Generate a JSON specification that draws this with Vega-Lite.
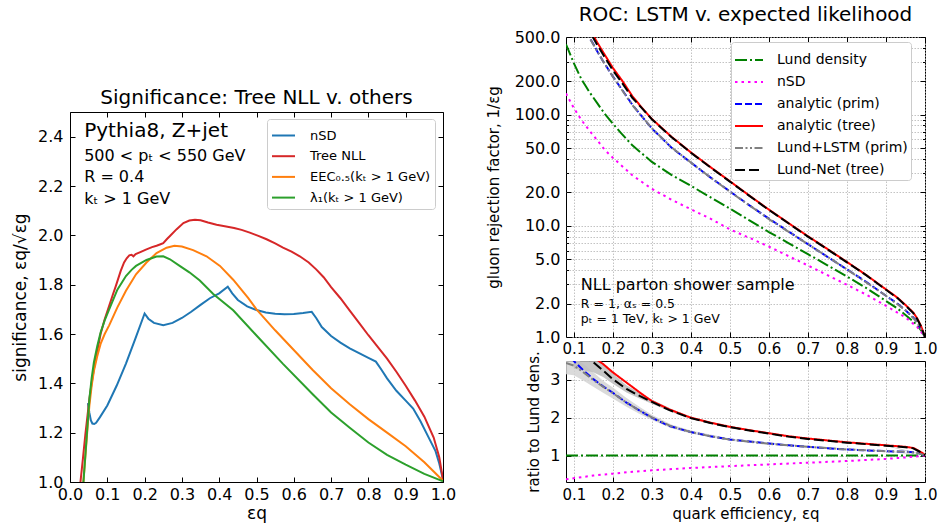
{
"$schema": "https://vega.github.io/schema/vega-lite/v6.json",
"autosize": {"type": "none"},
"padding": {"left": 70, "top": 37, "right": 872, "bottom": 491},
"background": "white",
"spacing": 496,
"bounds": "flush",
"resolve": {"scale": {"color": "independent", "strokeDash": "independent", "fill": "independent"}},
"datasets": {
"sig": [
{"s":"nSD","x":0.048,"y":1.32},{"s":"nSD","x":0.052,"y":1.28},{"s":"nSD","x":0.056,"y":1.25},{"s":"nSD","x":0.06,"y":1.237},{"s":"nSD","x":0.065,"y":1.235},{"s":"nSD","x":0.07,"y":1.24},{"s":"nSD","x":0.08,"y":1.262},{"s":"nSD","x":0.1,"y":1.31},{"s":"nSD","x":0.125,"y":1.39},{"s":"nSD","x":0.15,"y":1.48},{"s":"nSD","x":0.175,"y":1.58},{"s":"nSD","x":0.2,"y":1.683},{"s":"nSD","x":0.21,"y":1.662},{"s":"nSD","x":0.225,"y":1.645},{"s":"nSD","x":0.25,"y":1.636},{"s":"nSD","x":0.275,"y":1.645},{"s":"nSD","x":0.3,"y":1.665},{"s":"nSD","x":0.325,"y":1.69},{"s":"nSD","x":0.35,"y":1.718},{"s":"nSD","x":0.375,"y":1.745},{"s":"nSD","x":0.4,"y":1.765},{"s":"nSD","x":0.423,"y":1.792},{"s":"nSD","x":0.435,"y":1.765},{"s":"nSD","x":0.45,"y":1.738},{"s":"nSD","x":0.475,"y":1.712},{"s":"nSD","x":0.5,"y":1.697},{"s":"nSD","x":0.525,"y":1.687},{"s":"nSD","x":0.55,"y":1.682},{"s":"nSD","x":0.575,"y":1.68},{"s":"nSD","x":0.6,"y":1.681},{"s":"nSD","x":0.625,"y":1.685},{"s":"nSD","x":0.648,"y":1.69},{"s":"nSD","x":0.66,"y":1.665},{"s":"nSD","x":0.675,"y":1.628},{"s":"nSD","x":0.7,"y":1.592},{"s":"nSD","x":0.725,"y":1.565},{"s":"nSD","x":0.75,"y":1.542},{"s":"nSD","x":0.775,"y":1.522},{"s":"nSD","x":0.8,"y":1.503},{"s":"nSD","x":0.82,"y":1.488},{"s":"nSD","x":0.835,"y":1.455},{"s":"nSD","x":0.85,"y":1.42},{"s":"nSD","x":0.875,"y":1.37},{"s":"nSD","x":0.9,"y":1.33},{"s":"nSD","x":0.92,"y":1.298},{"s":"nSD","x":0.94,"y":1.245},{"s":"nSD","x":0.96,"y":1.185},{"s":"nSD","x":0.98,"y":1.125},{"s":"nSD","x":0.99,"y":1.075},{"s":"nSD","x":1.0,"y":1.01},
{"s":"Tree NLL","x":0.028,"y":1.0},{"s":"Tree NLL","x":0.035,"y":1.1},{"s":"Tree NLL","x":0.041,"y":1.19},{"s":"Tree NLL","x":0.047,"y":1.27},{"s":"Tree NLL","x":0.052,"y":1.337},{"s":"Tree NLL","x":0.058,"y":1.4},{"s":"Tree NLL","x":0.064,"y":1.458},{"s":"Tree NLL","x":0.073,"y":1.53},{"s":"Tree NLL","x":0.082,"y":1.6},{"s":"Tree NLL","x":0.093,"y":1.66},{"s":"Tree NLL","x":0.105,"y":1.714},{"s":"Tree NLL","x":0.115,"y":1.76},{"s":"Tree NLL","x":0.123,"y":1.795},{"s":"Tree NLL","x":0.136,"y":1.856},{"s":"Tree NLL","x":0.145,"y":1.89},{"s":"Tree NLL","x":0.152,"y":1.907},{"s":"Tree NLL","x":0.159,"y":1.919},{"s":"Tree NLL","x":0.165,"y":1.921},{"s":"Tree NLL","x":0.17,"y":1.915},{"s":"Tree NLL","x":0.176,"y":1.924},{"s":"Tree NLL","x":0.19,"y":1.933},{"s":"Tree NLL","x":0.205,"y":1.943},{"s":"Tree NLL","x":0.22,"y":1.952},{"s":"Tree NLL","x":0.232,"y":1.958},{"s":"Tree NLL","x":0.241,"y":1.963},{"s":"Tree NLL","x":0.25,"y":1.968},{"s":"Tree NLL","x":0.26,"y":1.985},{"s":"Tree NLL","x":0.268,"y":1.997},{"s":"Tree NLL","x":0.286,"y":2.025},{"s":"Tree NLL","x":0.304,"y":2.05},{"s":"Tree NLL","x":0.32,"y":2.06},{"s":"Tree NLL","x":0.335,"y":2.063},{"s":"Tree NLL","x":0.35,"y":2.061},{"s":"Tree NLL","x":0.37,"y":2.052},{"s":"Tree NLL","x":0.393,"y":2.043},{"s":"Tree NLL","x":0.415,"y":2.037},{"s":"Tree NLL","x":0.44,"y":2.03},{"s":"Tree NLL","x":0.46,"y":2.022},{"s":"Tree NLL","x":0.482,"y":2.011},{"s":"Tree NLL","x":0.505,"y":1.998},{"s":"Tree NLL","x":0.527,"y":1.984},{"s":"Tree NLL","x":0.55,"y":1.967},{"s":"Tree NLL","x":0.571,"y":1.95},{"s":"Tree NLL","x":0.594,"y":1.934},{"s":"Tree NLL","x":0.616,"y":1.915},{"s":"Tree NLL","x":0.64,"y":1.89},{"s":"Tree NLL","x":0.66,"y":1.862},{"s":"Tree NLL","x":0.68,"y":1.83},{"s":"Tree NLL","x":0.7,"y":1.79},{"s":"Tree NLL","x":0.725,"y":1.745},{"s":"Tree NLL","x":0.75,"y":1.695},{"s":"Tree NLL","x":0.775,"y":1.645},{"s":"Tree NLL","x":0.8,"y":1.595},{"s":"Tree NLL","x":0.825,"y":1.548},{"s":"Tree NLL","x":0.85,"y":1.5},{"s":"Tree NLL","x":0.875,"y":1.447},{"s":"Tree NLL","x":0.9,"y":1.39},{"s":"Tree NLL","x":0.925,"y":1.33},{"s":"Tree NLL","x":0.95,"y":1.265},{"s":"Tree NLL","x":0.975,"y":1.18},{"s":"Tree NLL","x":0.99,"y":1.1},{"s":"Tree NLL","x":1.0,"y":1.01},
{"s":"EEC₀.₅(kₜ > 1 GeV)","x":0.036,"y":1.0},{"s":"EEC₀.₅(kₜ > 1 GeV)","x":0.042,"y":1.12},{"s":"EEC₀.₅(kₜ > 1 GeV)","x":0.048,"y":1.24},{"s":"EEC₀.₅(kₜ > 1 GeV)","x":0.052,"y":1.31},{"s":"EEC₀.₅(kₜ > 1 GeV)","x":0.058,"y":1.39},{"s":"EEC₀.₅(kₜ > 1 GeV)","x":0.064,"y":1.45},{"s":"EEC₀.₅(kₜ > 1 GeV)","x":0.073,"y":1.51},{"s":"EEC₀.₅(kₜ > 1 GeV)","x":0.082,"y":1.56},{"s":"EEC₀.₅(kₜ > 1 GeV)","x":0.093,"y":1.6},{"s":"EEC₀.₅(kₜ > 1 GeV)","x":0.105,"y":1.635},{"s":"EEC₀.₅(kₜ > 1 GeV)","x":0.127,"y":1.708},{"s":"EEC₀.₅(kₜ > 1 GeV)","x":0.15,"y":1.775},{"s":"EEC₀.₅(kₜ > 1 GeV)","x":0.177,"y":1.842},{"s":"EEC₀.₅(kₜ > 1 GeV)","x":0.205,"y":1.89},{"s":"EEC₀.₅(kₜ > 1 GeV)","x":0.232,"y":1.928},{"s":"EEC₀.₅(kₜ > 1 GeV)","x":0.259,"y":1.95},{"s":"EEC₀.₅(kₜ > 1 GeV)","x":0.28,"y":1.958},{"s":"EEC₀.₅(kₜ > 1 GeV)","x":0.3,"y":1.955},{"s":"EEC₀.₅(kₜ > 1 GeV)","x":0.33,"y":1.94},{"s":"EEC₀.₅(kₜ > 1 GeV)","x":0.366,"y":1.915},{"s":"EEC₀.₅(kₜ > 1 GeV)","x":0.402,"y":1.876},{"s":"EEC₀.₅(kₜ > 1 GeV)","x":0.4375,"y":1.82},{"s":"EEC₀.₅(kₜ > 1 GeV)","x":0.478,"y":1.745},{"s":"EEC₀.₅(kₜ > 1 GeV)","x":0.5,"y":1.7},{"s":"EEC₀.₅(kₜ > 1 GeV)","x":0.55,"y":1.615},{"s":"EEC₀.₅(kₜ > 1 GeV)","x":0.6,"y":1.535},{"s":"EEC₀.₅(kₜ > 1 GeV)","x":0.65,"y":1.455},{"s":"EEC₀.₅(kₜ > 1 GeV)","x":0.7,"y":1.38},{"s":"EEC₀.₅(kₜ > 1 GeV)","x":0.75,"y":1.315},{"s":"EEC₀.₅(kₜ > 1 GeV)","x":0.8,"y":1.255},{"s":"EEC₀.₅(kₜ > 1 GeV)","x":0.85,"y":1.2},{"s":"EEC₀.₅(kₜ > 1 GeV)","x":0.9,"y":1.145},{"s":"EEC₀.₅(kₜ > 1 GeV)","x":0.95,"y":1.08},{"s":"EEC₀.₅(kₜ > 1 GeV)","x":1.0,"y":1.005},
{"s":"λ₁(kₜ > 1 GeV)","x":0.036,"y":1.0},{"s":"λ₁(kₜ > 1 GeV)","x":0.045,"y":1.19},{"s":"λ₁(kₜ > 1 GeV)","x":0.052,"y":1.337},{"s":"λ₁(kₜ > 1 GeV)","x":0.058,"y":1.42},{"s":"λ₁(kₜ > 1 GeV)","x":0.064,"y":1.485},{"s":"λ₁(kₜ > 1 GeV)","x":0.073,"y":1.55},{"s":"λ₁(kₜ > 1 GeV)","x":0.082,"y":1.606},{"s":"λ₁(kₜ > 1 GeV)","x":0.093,"y":1.655},{"s":"λ₁(kₜ > 1 GeV)","x":0.105,"y":1.7},{"s":"λ₁(kₜ > 1 GeV)","x":0.127,"y":1.78},{"s":"λ₁(kₜ > 1 GeV)","x":0.15,"y":1.835},{"s":"λ₁(kₜ > 1 GeV)","x":0.165,"y":1.86},{"s":"λ₁(kₜ > 1 GeV)","x":0.177,"y":1.876},{"s":"λ₁(kₜ > 1 GeV)","x":0.205,"y":1.9},{"s":"λ₁(kₜ > 1 GeV)","x":0.232,"y":1.914},{"s":"λ₁(kₜ > 1 GeV)","x":0.25,"y":1.915},{"s":"λ₁(kₜ > 1 GeV)","x":0.268,"y":1.903},{"s":"λ₁(kₜ > 1 GeV)","x":0.295,"y":1.875},{"s":"λ₁(kₜ > 1 GeV)","x":0.32,"y":1.85},{"s":"λ₁(kₜ > 1 GeV)","x":0.348,"y":1.817},{"s":"λ₁(kₜ > 1 GeV)","x":0.384,"y":1.762},{"s":"λ₁(kₜ > 1 GeV)","x":0.4375,"y":1.696},{"s":"λ₁(kₜ > 1 GeV)","x":0.5,"y":1.594},{"s":"λ₁(kₜ > 1 GeV)","x":0.571,"y":1.479},{"s":"λ₁(kₜ > 1 GeV)","x":0.65,"y":1.357},{"s":"λ₁(kₜ > 1 GeV)","x":0.7,"y":1.282},{"s":"λ₁(kₜ > 1 GeV)","x":0.75,"y":1.22},{"s":"λ₁(kₜ > 1 GeV)","x":0.8,"y":1.16},{"s":"λ₁(kₜ > 1 GeV)","x":0.85,"y":1.11},{"s":"λ₁(kₜ > 1 GeV)","x":0.9,"y":1.07},{"s":"λ₁(kₜ > 1 GeV)","x":0.95,"y":1.033},{"s":"λ₁(kₜ > 1 GeV)","x":1.0,"y":1.003}
],
"roc": [
{"s":"Lund density","x":0.08,"y":430},{"s":"Lund density","x":0.09,"y":355},{"s":"Lund density","x":0.1,"y":291},{"s":"Lund density","x":0.11,"y":245},{"s":"Lund density","x":0.12,"y":207},{"s":"Lund density","x":0.13,"y":182},{"s":"Lund density","x":0.14,"y":160},{"s":"Lund density","x":0.16,"y":127},{"s":"Lund density","x":0.18,"y":101},{"s":"Lund density","x":0.2,"y":83},{"s":"Lund density","x":0.22,"y":69},{"s":"Lund density","x":0.25,"y":53},{"s":"Lund density","x":0.3,"y":37.6},{"s":"Lund density","x":0.35,"y":28.8},{"s":"Lund density","x":0.4,"y":22.9},{"s":"Lund density","x":0.45,"y":18.1},{"s":"Lund density","x":0.5,"y":14.3},{"s":"Lund density","x":0.55,"y":11.2},{"s":"Lund density","x":0.6,"y":8.8},{"s":"Lund density","x":0.65,"y":7.0},{"s":"Lund density","x":0.7,"y":5.56},{"s":"Lund density","x":0.75,"y":4.42},{"s":"Lund density","x":0.8,"y":3.5},{"s":"Lund density","x":0.85,"y":2.75},{"s":"Lund density","x":0.9,"y":2.11},{"s":"Lund density","x":0.93,"y":1.8},{"s":"Lund density","x":0.95,"y":1.58},{"s":"Lund density","x":0.97,"y":1.38},{"s":"Lund density","x":0.98,"y":1.27},{"s":"Lund density","x":0.99,"y":1.15},{"s":"Lund density","x":1.0,"y":1.0},
{"s":"nSD","x":0.08,"y":155},{"s":"nSD","x":0.1,"y":115},{"s":"nSD","x":0.12,"y":89},{"s":"nSD","x":0.14,"y":72},{"s":"nSD","x":0.16,"y":59},{"s":"nSD","x":0.18,"y":48},{"s":"nSD","x":0.2,"y":41},{"s":"nSD","x":0.25,"y":28.5},{"s":"nSD","x":0.3,"y":21.5},{"s":"nSD","x":0.35,"y":17.2},{"s":"nSD","x":0.4,"y":14.1},{"s":"nSD","x":0.45,"y":11.6},{"s":"nSD","x":0.5,"y":9.3},{"s":"nSD","x":0.55,"y":7.8},{"s":"nSD","x":0.6,"y":6.5},{"s":"nSD","x":0.65,"y":5.35},{"s":"nSD","x":0.7,"y":4.4},{"s":"nSD","x":0.75,"y":3.6},{"s":"nSD","x":0.8,"y":2.95},{"s":"nSD","x":0.85,"y":2.4},{"s":"nSD","x":0.9,"y":1.91},{"s":"nSD","x":0.95,"y":1.5},{"s":"nSD","x":0.98,"y":1.23},{"s":"nSD","x":1.0,"y":1.0},
{"s":"analytic (prim)","x":0.12,"y":689},{"s":"analytic (prim)","x":0.13,"y":582},{"s":"analytic (prim)","x":0.14,"y":496},{"s":"analytic (prim)","x":0.15,"y":432},{"s":"analytic (prim)","x":0.16,"y":373},{"s":"analytic (prim)","x":0.175,"y":303},{"s":"analytic (prim)","x":0.2,"y":221},{"s":"analytic (prim)","x":0.225,"y":165},{"s":"analytic (prim)","x":0.25,"y":123},{"s":"analytic (prim)","x":0.275,"y":96},{"s":"analytic (prim)","x":0.3,"y":75.2},{"s":"analytic (prim)","x":0.35,"y":50.7},{"s":"analytic (prim)","x":0.4,"y":37.1},{"s":"analytic (prim)","x":0.45,"y":27.3},{"s":"analytic (prim)","x":0.5,"y":20.4},{"s":"analytic (prim)","x":0.55,"y":15.3},{"s":"analytic (prim)","x":0.6,"y":11.6},{"s":"analytic (prim)","x":0.65,"y":8.9},{"s":"analytic (prim)","x":0.7,"y":6.84},{"s":"analytic (prim)","x":0.75,"y":5.26},{"s":"analytic (prim)","x":0.8,"y":4.06},{"s":"analytic (prim)","x":0.85,"y":3.12},{"s":"analytic (prim)","x":0.9,"y":2.35},{"s":"analytic (prim)","x":0.93,"y":1.99},{"s":"analytic (prim)","x":0.95,"y":1.74},{"s":"analytic (prim)","x":0.97,"y":1.5},{"s":"analytic (prim)","x":0.98,"y":1.36},{"s":"analytic (prim)","x":0.99,"y":1.2},{"s":"analytic (prim)","x":1.0,"y":1.0},
{"s":"analytic (tree)","x":0.13,"y":683},{"s":"analytic (tree)","x":0.14,"y":589},{"s":"analytic (tree)","x":0.15,"y":515},{"s":"analytic (tree)","x":0.16,"y":447},{"s":"analytic (tree)","x":0.175,"y":366},{"s":"analytic (tree)","x":0.2,"y":264},{"s":"analytic (tree)","x":0.225,"y":200},{"s":"analytic (tree)","x":0.25,"y":147},{"s":"analytic (tree)","x":0.275,"y":115},{"s":"analytic (tree)","x":0.3,"y":91.7},{"s":"analytic (tree)","x":0.35,"y":63.4},{"s":"analytic (tree)","x":0.4,"y":45.8},{"s":"analytic (tree)","x":0.45,"y":33.8},{"s":"analytic (tree)","x":0.5,"y":25.2},{"s":"analytic (tree)","x":0.55,"y":18.7},{"s":"analytic (tree)","x":0.6,"y":14.0},{"s":"analytic (tree)","x":0.65,"y":10.6},{"s":"analytic (tree)","x":0.7,"y":8.06},{"s":"analytic (tree)","x":0.75,"y":6.19},{"s":"analytic (tree)","x":0.8,"y":4.73},{"s":"analytic (tree)","x":0.85,"y":3.6},{"s":"analytic (tree)","x":0.9,"y":2.68},{"s":"analytic (tree)","x":0.93,"y":2.25},{"s":"analytic (tree)","x":0.95,"y":1.94},{"s":"analytic (tree)","x":0.97,"y":1.66},{"s":"analytic (tree)","x":0.98,"y":1.47},{"s":"analytic (tree)","x":0.99,"y":1.25},{"s":"analytic (tree)","x":1.0,"y":1.0},
{"s":"Lund+LSTM (prim)","x":0.12,"y":679},{"s":"Lund+LSTM (prim)","x":0.13,"y":577},{"s":"Lund+LSTM (prim)","x":0.14,"y":493},{"s":"Lund+LSTM (prim)","x":0.15,"y":429},{"s":"Lund+LSTM (prim)","x":0.175,"y":302},{"s":"Lund+LSTM (prim)","x":0.2,"y":220},{"s":"Lund+LSTM (prim)","x":0.25,"y":122},{"s":"Lund+LSTM (prim)","x":0.3,"y":75.6},{"s":"Lund+LSTM (prim)","x":0.35,"y":51},{"s":"Lund+LSTM (prim)","x":0.4,"y":37.1},{"s":"Lund+LSTM (prim)","x":0.45,"y":27.3},{"s":"Lund+LSTM (prim)","x":0.5,"y":20.3},{"s":"Lund+LSTM (prim)","x":0.6,"y":11.5},{"s":"Lund+LSTM (prim)","x":0.7,"y":6.84},{"s":"Lund+LSTM (prim)","x":0.8,"y":4.06},{"s":"Lund+LSTM (prim)","x":0.9,"y":2.35},{"s":"Lund+LSTM (prim)","x":0.95,"y":1.74},{"s":"Lund+LSTM (prim)","x":0.98,"y":1.36},{"s":"Lund+LSTM (prim)","x":1.0,"y":1.0},
{"s":"Lund-Net (tree)","x":0.13,"y":659},{"s":"Lund-Net (tree)","x":0.14,"y":563},{"s":"Lund-Net (tree)","x":0.15,"y":489},{"s":"Lund-Net (tree)","x":0.16,"y":425},{"s":"Lund-Net (tree)","x":0.175,"y":348},{"s":"Lund-Net (tree)","x":0.2,"y":251},{"s":"Lund-Net (tree)","x":0.225,"y":190},{"s":"Lund-Net (tree)","x":0.25,"y":142},{"s":"Lund-Net (tree)","x":0.275,"y":114},{"s":"Lund-Net (tree)","x":0.3,"y":91},{"s":"Lund-Net (tree)","x":0.35,"y":63},{"s":"Lund-Net (tree)","x":0.4,"y":45.5},{"s":"Lund-Net (tree)","x":0.45,"y":33.6},{"s":"Lund-Net (tree)","x":0.5,"y":25.0},{"s":"Lund-Net (tree)","x":0.55,"y":18.6},{"s":"Lund-Net (tree)","x":0.6,"y":13.9},{"s":"Lund-Net (tree)","x":0.65,"y":10.55},{"s":"Lund-Net (tree)","x":0.7,"y":8.0},{"s":"Lund-Net (tree)","x":0.75,"y":6.15},{"s":"Lund-Net (tree)","x":0.8,"y":4.7},{"s":"Lund-Net (tree)","x":0.85,"y":3.58},{"s":"Lund-Net (tree)","x":0.9,"y":2.66},{"s":"Lund-Net (tree)","x":0.93,"y":2.23},{"s":"Lund-Net (tree)","x":0.95,"y":1.92},{"s":"Lund-Net (tree)","x":0.97,"y":1.64},{"s":"Lund-Net (tree)","x":0.98,"y":1.45},{"s":"Lund-Net (tree)","x":0.99,"y":1.24},{"s":"Lund-Net (tree)","x":1.0,"y":1.0}
],
"ratio": [
{"s":"Lund density","x":0.08,"y":1},{"s":"Lund density","x":1.0,"y":1},
{"s":"nSD","x":0.08,"y":0.37},{"s":"nSD","x":0.1,"y":0.4},{"s":"nSD","x":0.15,"y":0.47},{"s":"nSD","x":0.2,"y":0.52},{"s":"nSD","x":0.25,"y":0.57},{"s":"nSD","x":0.3,"y":0.61},{"s":"nSD","x":0.4,"y":0.67},{"s":"nSD","x":0.5,"y":0.72},{"s":"nSD","x":0.6,"y":0.765},{"s":"nSD","x":0.7,"y":0.81},{"s":"nSD","x":0.8,"y":0.855},{"s":"nSD","x":0.9,"y":0.91},{"s":"nSD","x":0.95,"y":0.95},{"s":"nSD","x":1.0,"y":1.0},
{"s":"analytic (prim)","x":0.095,"y":3.6},{"s":"analytic (prim)","x":0.1,"y":3.5},{"s":"analytic (prim)","x":0.125,"y":3.25},{"s":"analytic (prim)","x":0.15,"y":3.02},{"s":"analytic (prim)","x":0.175,"y":2.83},{"s":"analytic (prim)","x":0.2,"y":2.66},{"s":"analytic (prim)","x":0.235,"y":2.4},{"s":"analytic (prim)","x":0.27,"y":2.18},{"s":"analytic (prim)","x":0.3,"y":2.0},{"s":"analytic (prim)","x":0.345,"y":1.78},{"s":"analytic (prim)","x":0.4,"y":1.62},{"s":"analytic (prim)","x":0.45,"y":1.51},{"s":"analytic (prim)","x":0.5,"y":1.425},{"s":"analytic (prim)","x":0.55,"y":1.37},{"s":"analytic (prim)","x":0.6,"y":1.32},{"s":"analytic (prim)","x":0.65,"y":1.27},{"s":"analytic (prim)","x":0.7,"y":1.23},{"s":"analytic (prim)","x":0.75,"y":1.19},{"s":"analytic (prim)","x":0.8,"y":1.16},{"s":"analytic (prim)","x":0.85,"y":1.135},{"s":"analytic (prim)","x":0.9,"y":1.115},{"s":"analytic (prim)","x":0.95,"y":1.1},{"s":"analytic (prim)","x":0.97,"y":1.085},{"s":"analytic (prim)","x":0.985,"y":1.06},{"s":"analytic (prim)","x":1.0,"y":1.01},
{"s":"analytic (tree)","x":0.14,"y":3.68},{"s":"analytic (tree)","x":0.15,"y":3.6},{"s":"analytic (tree)","x":0.175,"y":3.42},{"s":"analytic (tree)","x":0.2,"y":3.2},{"s":"analytic (tree)","x":0.235,"y":2.93},{"s":"analytic (tree)","x":0.27,"y":2.66},{"s":"analytic (tree)","x":0.3,"y":2.44},{"s":"analytic (tree)","x":0.345,"y":2.22},{"s":"analytic (tree)","x":0.4,"y":2.0},{"s":"analytic (tree)","x":0.45,"y":1.87},{"s":"analytic (tree)","x":0.5,"y":1.76},{"s":"analytic (tree)","x":0.55,"y":1.67},{"s":"analytic (tree)","x":0.6,"y":1.59},{"s":"analytic (tree)","x":0.65,"y":1.51},{"s":"analytic (tree)","x":0.7,"y":1.45},{"s":"analytic (tree)","x":0.75,"y":1.4},{"s":"analytic (tree)","x":0.8,"y":1.35},{"s":"analytic (tree)","x":0.85,"y":1.31},{"s":"analytic (tree)","x":0.9,"y":1.27},{"s":"analytic (tree)","x":0.95,"y":1.23},{"s":"analytic (tree)","x":0.97,"y":1.2},{"s":"analytic (tree)","x":0.983,"y":1.13},{"s":"analytic (tree)","x":0.993,"y":1.07},{"s":"analytic (tree)","x":1.0,"y":1.01},
{"s":"Lund+LSTM (prim)","x":0.08,"y":3.45},{"s":"Lund+LSTM (prim)","x":0.1,"y":3.38},{"s":"Lund+LSTM (prim)","x":0.125,"y":3.2},{"s":"Lund+LSTM (prim)","x":0.15,"y":3.0},{"s":"Lund+LSTM (prim)","x":0.175,"y":2.82},{"s":"Lund+LSTM (prim)","x":0.2,"y":2.65},{"s":"Lund+LSTM (prim)","x":0.235,"y":2.4},{"s":"Lund+LSTM (prim)","x":0.27,"y":2.18},{"s":"Lund+LSTM (prim)","x":0.3,"y":2.01},{"s":"Lund+LSTM (prim)","x":0.35,"y":1.77},{"s":"Lund+LSTM (prim)","x":0.4,"y":1.62},{"s":"Lund+LSTM (prim)","x":0.45,"y":1.51},{"s":"Lund+LSTM (prim)","x":0.5,"y":1.42},{"s":"Lund+LSTM (prim)","x":0.6,"y":1.31},{"s":"Lund+LSTM (prim)","x":0.7,"y":1.23},{"s":"Lund+LSTM (prim)","x":0.8,"y":1.16},{"s":"Lund+LSTM (prim)","x":0.9,"y":1.115},{"s":"Lund+LSTM (prim)","x":0.95,"y":1.1},{"s":"Lund+LSTM (prim)","x":0.98,"y":1.07},{"s":"Lund+LSTM (prim)","x":1.0,"y":1.01},
{"s":"Lund-Net (tree)","x":0.12,"y":3.65},{"s":"Lund-Net (tree)","x":0.15,"y":3.47},{"s":"Lund-Net (tree)","x":0.175,"y":3.25},{"s":"Lund-Net (tree)","x":0.2,"y":3.02},{"s":"Lund-Net (tree)","x":0.235,"y":2.76},{"s":"Lund-Net (tree)","x":0.27,"y":2.57},{"s":"Lund-Net (tree)","x":0.3,"y":2.42},{"s":"Lund-Net (tree)","x":0.345,"y":2.2},{"s":"Lund-Net (tree)","x":0.4,"y":1.99},{"s":"Lund-Net (tree)","x":0.45,"y":1.86},{"s":"Lund-Net (tree)","x":0.5,"y":1.75},{"s":"Lund-Net (tree)","x":0.55,"y":1.66},{"s":"Lund-Net (tree)","x":0.6,"y":1.58},{"s":"Lund-Net (tree)","x":0.65,"y":1.5},{"s":"Lund-Net (tree)","x":0.7,"y":1.44},{"s":"Lund-Net (tree)","x":0.75,"y":1.39},{"s":"Lund-Net (tree)","x":0.8,"y":1.34},{"s":"Lund-Net (tree)","x":0.85,"y":1.3},{"s":"Lund-Net (tree)","x":0.9,"y":1.26},{"s":"Lund-Net (tree)","x":0.95,"y":1.22},{"s":"Lund-Net (tree)","x":0.97,"y":1.19},{"s":"Lund-Net (tree)","x":0.983,"y":1.12},{"s":"Lund-Net (tree)","x":0.993,"y":1.06},{"s":"Lund-Net (tree)","x":1.0,"y":1.01}
],
"band": [
{"b":"lstm","x":0.08,"lo":3.15,"hi":3.7},{"b":"lstm","x":0.1,"lo":3.12,"hi":3.6},{"b":"lstm","x":0.125,"lo":2.98,"hi":3.42},{"b":"lstm","x":0.15,"lo":2.82,"hi":3.2},{"b":"lstm","x":0.175,"lo":2.66,"hi":2.98},{"b":"lstm","x":0.2,"lo":2.51,"hi":2.8},{"b":"lstm","x":0.235,"lo":2.29,"hi":2.52},{"b":"lstm","x":0.27,"lo":2.09,"hi":2.28},{"b":"lstm","x":0.3,"lo":1.94,"hi":2.08},{"b":"lstm","x":0.35,"lo":1.72,"hi":1.82},{"b":"lstm","x":0.4,"lo":1.58,"hi":1.66},{"b":"lstm","x":0.5,"lo":1.39,"hi":1.45},{"b":"lstm","x":0.7,"lo":1.21,"hi":1.25},{"b":"lstm","x":0.9,"lo":1.1,"hi":1.13},{"b":"lstm","x":1.0,"lo":1.0,"hi":1.02},
{"b":"net","x":0.1,"lo":3.3,"hi":3.9},{"b":"net","x":0.125,"lo":3.25,"hi":3.75},{"b":"net","x":0.15,"lo":3.2,"hi":3.65},{"b":"net","x":0.175,"lo":3.08,"hi":3.45},{"b":"net","x":0.2,"lo":2.9,"hi":3.17},{"b":"net","x":0.235,"lo":2.67,"hi":2.86},{"b":"net","x":0.27,"lo":2.5,"hi":2.65},{"b":"net","x":0.3,"lo":2.37,"hi":2.48},{"b":"net","x":0.35,"lo":2.15,"hi":2.23},{"b":"net","x":0.4,"lo":1.96,"hi":2.02},{"b":"net","x":0.5,"lo":1.73,"hi":1.77},{"b":"net","x":0.7,"lo":1.43,"hi":1.455},{"b":"net","x":0.9,"lo":1.25,"hi":1.27},{"b":"net","x":1.0,"lo":1.0,"hi":1.02}
]
},
"hconcat": [
{"vconcat": [
{"width": 373, "height": 1, "view": {"stroke": null},
 "data": {"values": [{"a": 1}]},
 "mark": {"type": "point", "opacity": 0},
 "encoding": {}},
{"width": 373, "height": 370,
 "title": {"text": "Significance: Tree NLL v. others"},
 "layer": [
  {"data": {"name": "sig"},
   "mark": {"type": "line", "strokeWidth": 2, "clip": true},
   "encoding": {
    "x": {"field": "x", "type": "quantitative", "scale": {"domain": [0, 1], "nice": false, "zero": false},
          "axis": {"orient": "bottom", "values": [0,0.1,0.2,0.3,0.4,0.5,0.6,0.7,0.8,0.9,1], "format": ".1f", "title": "εq", "titlePadding": 3, "labelPadding": 9}},
    "y": {"field": "y", "type": "quantitative", "scale": {"domain": [1, 2.5], "nice": false, "zero": false},
          "axis": {"orient": "left", "values": [1,1.2,1.4,1.6,1.8,2,2.2,2.4], "format": ".1f", "title": "significance, εq/√εg", "titlePadding": 8, "labelPadding": 12}},
    "color": {"field": "s", "type": "nominal",
              "scale": {"domain": ["nSD","Tree NLL","EEC₀.₅(kₜ > 1 GeV)","λ₁(kₜ > 1 GeV)"], "range": ["#1f77b4","#d62728","#ff7f0e","#2ca02c"]},
              "legend": {"orient": "none", "legendX": 197, "legendY": 82, "title": null, "labelFontSize": 13, "symbolSize": 529, "rowPadding": 0.7, "labelOffset": 14, "padding": 4}}
   }},
  {"data": {"values": [{"x": 0.038, "y": 2.4, "t": "Pythia8, Z+jet"}]},
   "mark": {"type": "text", "align": "left", "baseline": "alphabetic", "fontSize": 20, "color": "black"},
   "encoding": {"x": {"field": "x", "type": "quantitative", "axis": null}, "y": {"field": "y", "type": "quantitative", "axis": null}, "text": {"field": "t"}}},
  {"data": {"values": [{"x": 0.038, "y": 2.3, "t": "500 < pₜ < 550 GeV"}, {"x": 0.038, "y": 2.215, "t": "R = 0.4"}, {"x": 0.038, "y": 2.128, "t": "kₜ > 1 GeV"}]},
   "mark": {"type": "text", "align": "left", "baseline": "alphabetic", "fontSize": 16, "color": "black"},
   "encoding": {"x": {"field": "x", "type": "quantitative", "axis": null}, "y": {"field": "y", "type": "quantitative", "axis": null}, "text": {"field": "t"}}},
  {"data": {"values": [{"x": 0.5, "y": 1.5}]},
   "mark": {"type": "point", "opacity": 0},
   "encoding": {
    "x": {"field": "x", "type": "quantitative", "axis": {"orient": "top", "values": [0,0.1,0.2,0.3,0.4,0.5,0.6,0.7,0.8,0.9,1], "labels": false, "title": null}},
    "y": {"field": "y", "type": "quantitative", "axis": {"orient": "right", "values": [1,1.2,1.4,1.6,1.8,2,2.2,2.4], "labels": false, "title": null}}}}
 ],
 "resolve": {"axis": {"x": "independent", "y": "independent"}}
}
], "spacing": 74, "bounds": "flush"},
{"vconcat": [
{"width": 359, "height": 300,
 "title": {"text": "ROC: LSTM v. expected likelihood"},
 "layer": [
  {"data": {"name": "roc"},
   "mark": {"type": "line", "strokeWidth": 2, "clip": true, "strokeCap": "butt"},
   "encoding": {
    "x": {"field": "x", "type": "quantitative", "scale": {"domain": [0.08, 1], "nice": false, "zero": false},
          "axis": {"orient": "bottom", "values": [0.1,0.2,0.3,0.4,0.5,0.6,0.7,0.8,0.9,1], "format": ".1f", "title": null, "labelFontSize": 15, "labelPadding": 9, "grid": true}},
    "y": {"field": "y", "type": "quantitative", "scale": {"type": "log", "domain": [1, 500], "nice": false},
          "axis": {"orient": "left", "values": [1,2,5,10,20,50,100,200,500], "format": ".1f", "title": "gluon rejection factor, 1/εg", "titleFontSize": 15, "titlePadding": 13, "labelPadding": 11, "grid": true}},
    "color": {"field": "s", "type": "nominal",
              "scale": {"domain": ["Lund density","nSD","analytic (prim)","analytic (tree)","Lund+LSTM (prim)","Lund-Net (tree)"], "range": ["#008000","#ff00ff","#0000ff","#ff0000","#808080","#000000"]},
              "legend": {"orient": "none", "legendX": 165, "legendY": 5, "title": null, "labelFontSize": 14, "symbolSize": 784, "rowPadding": -1.5, "labelOffset": 13, "padding": 3}},
    "strokeDash": {"field": "s", "type": "nominal",
              "scale": {"domain": ["Lund density","nSD","analytic (prim)","analytic (tree)","Lund+LSTM (prim)","Lund-Net (tree)"], "range": [[12,3,2,3],[2.5,4],[7,3],[1,0],[8,2.5,2,2.5,2,2.5],[10,4]]},
              "legend": {"orient": "none", "legendX": 165, "legendY": 5, "title": null, "labelFontSize": 14, "symbolSize": 784, "rowPadding": -1.5, "labelOffset": 13, "padding": 3}}
   }},
  {"data": {"values": [{"x": 0.118, "y": 2.65, "t": "NLL parton shower sample"}]},
   "mark": {"type": "text", "align": "left", "baseline": "alphabetic", "fontSize": 16, "color": "black"},
   "encoding": {"x": {"field": "x", "type": "quantitative", "axis": null}, "y": {"field": "y", "type": "quantitative", "axis": null}, "text": {"field": "t"}}},
  {"data": {"values": [{"x": 0.118, "y": 1.81, "t": "R = 1, αₛ = 0.5"}, {"x": 0.118, "y": 1.33, "t": "pₜ = 1 TeV, kₜ > 1 GeV"}]},
   "mark": {"type": "text", "align": "left", "baseline": "alphabetic", "fontSize": 12.5, "color": "black"},
   "encoding": {"x": {"field": "x", "type": "quantitative", "axis": null}, "y": {"field": "y", "type": "quantitative", "axis": null}, "text": {"field": "t"}}},
  {"data": {"values": [{"x": 0.5, "y": 10}]},
   "mark": {"type": "point", "opacity": 0},
   "encoding": {
    "x": {"field": "x", "type": "quantitative", "axis": {"orient": "top", "values": [0.1,0.2,0.3,0.4,0.5,0.6,0.7,0.8,0.9,1], "labels": false, "title": null}},
    "y": {"field": "y", "type": "quantitative", "axis": {"orient": "left", "values": [3,4,6,7,8,9,30,40,60,70,80,90,300,400], "labels": false, "title": null, "tickSize": -2.5, "grid": true}}}},
  {"data": {"values": [{"x": 0.5, "y": 10}]},
   "mark": {"type": "point", "opacity": 0},
   "encoding": {
    "x": {"field": "x", "type": "quantitative", "axis": null},
    "y": {"field": "y", "type": "quantitative", "axis": {"orient": "right", "values": [1,2,5,10,20,50,100,200,500], "labels": false, "title": null}}}},
  {"data": {"values": [{"x": 0.5, "y": 10}]},
   "mark": {"type": "point", "opacity": 0},
   "encoding": {
    "x": {"field": "x", "type": "quantitative", "axis": null},
    "y": {"field": "y", "type": "quantitative", "axis": {"orient": "right", "values": [3,4,6,7,8,9,30,40,60,70,80,90,300,400], "labels": false, "title": null, "tickSize": -2.5}}}}
 ],
 "resolve": {"axis": {"x": "independent", "y": "independent"}}
},
{"width": 359, "height": 121,
 "layer": [
  {"data": {"name": "band"},
   "mark": {"type": "area", "clip": true, "opacity": 0.85},
   "encoding": {
    "x": {"field": "x", "type": "quantitative", "scale": {"domain": [0.08, 1], "nice": false, "zero": false}, "axis": null},
    "y": {"field": "lo", "type": "quantitative", "scale": {"domain": [0.3, 3.5], "nice": false, "zero": false}, "axis": null},
    "y2": {"field": "hi"},
    "fill": {"field": "b", "type": "nominal", "scale": {"domain": ["lstm","net"], "range": ["#d4d4d4","#bcbcbc"]}, "legend": null}
   }},
  {"data": {"name": "ratio"},
   "mark": {"type": "line", "strokeWidth": 2, "clip": true, "strokeCap": "butt"},
   "encoding": {
    "x": {"field": "x", "type": "quantitative",
          "axis": {"orient": "bottom", "values": [0.1,0.2,0.3,0.4,0.5,0.6,0.7,0.8,0.9,1], "format": ".1f", "title": "quark efficiency, εq", "labelFontSize": 15, "labelPadding": 10, "titleFontSize": 15, "titlePadding": 4, "grid": true}},
    "y": {"field": "y", "type": "quantitative",
          "axis": {"orient": "left", "values": [1,2,3], "format": "d", "title": "ratio to Lund dens.", "titleFontSize": 15, "titlePadding": 8, "labelPadding": 11, "grid": true}},
    "color": {"field": "s", "type": "nominal",
              "scale": {"domain": ["Lund density","nSD","analytic (prim)","analytic (tree)","Lund+LSTM (prim)","Lund-Net (tree)"], "range": ["#008000","#ff00ff","#0000ff","#ff0000","#808080","#000000"]}, "legend": null},
    "strokeDash": {"field": "s", "type": "nominal",
              "scale": {"domain": ["Lund density","nSD","analytic (prim)","analytic (tree)","Lund+LSTM (prim)","Lund-Net (tree)"], "range": [[12,3,2,3],[2.5,4],[7,3],[1,0],[8,2.5,2,2.5,2,2.5],[10,4]]}, "legend": null}
   }},
  {"data": {"values": [{"x": 0.5, "y": 1}]},
   "mark": {"type": "point", "opacity": 0},
   "encoding": {
    "x": {"field": "x", "type": "quantitative", "axis": {"orient": "top", "values": [0.1,0.2,0.3,0.4,0.5,0.6,0.7,0.8,0.9,1], "labels": false, "title": null}},
    "y": {"field": "y", "type": "quantitative", "axis": {"orient": "right", "values": [1,2,3], "labels": false, "title": null}}}}
 ],
 "resolve": {"axis": {"x": "independent", "y": "independent"}}
}
], "spacing": 24, "bounds": "flush"}
],
"config": {
 "font": "DejaVu Sans",
 "view": {"stroke": "black", "strokeWidth": 1},
 "axis": {"domain": false, "ticks": true, "tickColor": "black", "tickWidth": 1, "tickSize": -5, "labelFont": "DejaVu Sans", "labelFontSize": 16, "labelColor": "black", "labelPadding": 7, "labelFlush": false, "labelOverlap": false, "titleFont": "DejaVu Sans", "titleFontSize": 17, "titleFontWeight": "normal", "titleColor": "black", "grid": false, "gridColor": "#b4b4b4", "gridDash": [1.5, 1.5], "gridWidth": 0.8},
 "title": {"font": "DejaVu Sans", "fontSize": 20, "fontWeight": "normal", "color": "black", "offset": 4},
 "legend": {"labelFont": "DejaVu Sans", "labelColor": "black", "symbolType": "stroke", "symbolStrokeWidth": 2, "padding": 6, "fillColor": "white", "strokeColor": "#cccccc", "cornerRadius": 3, "labelLimit": 400},
 "text": {"font": "DejaVu Sans"}
}
}
